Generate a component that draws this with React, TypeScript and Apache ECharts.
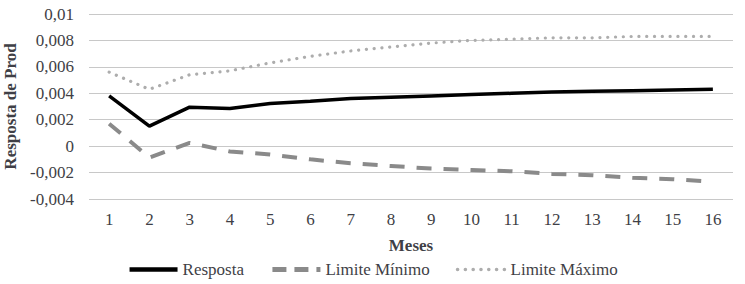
import React, { useEffect, useRef } from "react";
import * as echarts from "echarts";

const months = ["1","2","3","4","5","6","7","8","9","10","11","12","13","14","15","16"];
const resposta = [0.0038,0.00152,0.00295,0.00285,0.00323,0.0034,0.0036,0.0037,0.0038,0.0039,0.004,0.0041,0.00415,0.0042,0.00425,0.0043];
const limiteMinimo = [0.0017,-0.00086,0.00025,-0.0004,-0.00063,-0.001,-0.0013,-0.0015,-0.0017,-0.0018,-0.0019,-0.0021,-0.0022,-0.0024,-0.0025,-0.0027];
const limiteMaximo = [0.0056,0.0043,0.0054,0.0057,0.0063,0.0068,0.0072,0.0075,0.0078,0.008,0.0081,0.0082,0.0082,0.0083,0.0083,0.0083];

const FONT = "Liberation Serif";
const TXT = "#3f3f46";

export default function App() {
  const ref = useRef<HTMLDivElement>(null);
  useEffect(() => {
    if (!ref.current) return;
    const chart = echarts.init(ref.current, undefined, { renderer: "svg" });
    chart.setOption({
      animation: false,
      textStyle: { fontFamily: FONT },
      grid: { left: 89, right: 12, top: 14, bottom: 85, containLabel: false, outerBoundsMode: "none" },
      legend: {
        top: 256,
        left: "center",
        itemWidth: 48,
        itemHeight: 10,
        itemGap: 26,
        itemStyle: { opacity: 0 },
        textStyle: { fontFamily: FONT, fontSize: 17, color: TXT },
        data: [
          { name: "Resposta", lineStyle: { width: 4.5, color: "#000000" } },
          { name: "Limite Mínimo", lineStyle: { width: 5, color: "#8a8a8a", type: [14, 8] } },
          { name: "Limite Máximo", lineStyle: { width: 3.5, color: "#adadad", type: [0.1, 7.7], cap: "round" } },
        ],
      },
      xAxis: {
        type: "category",
        data: months,
        boundaryGap: true,
        name: "Meses",
        nameLocation: "middle",
        nameGap: 38,
        nameTextStyle: { fontFamily: FONT, fontSize: 17, fontWeight: "bold", color: TXT },
        axisLine: { show: false },
        axisTick: { show: false },
        axisLabel: { fontFamily: FONT, fontSize: 17, color: TXT, margin: 12 },
      },
      yAxis: {
        type: "value",
        min: -0.004,
        max: 0.01,
        interval: 0.002,
        name: "Resposta de Prod",
        nameLocation: "middle",
        nameGap: 62,
        nameTextStyle: { fontFamily: FONT, fontSize: 17, fontWeight: "bold", color: TXT },
        axisLine: { show: false },
        axisTick: { show: false },
        splitLine: { lineStyle: { color: "#c8c8c8", width: 1 } },
        axisLabel: {
          fontFamily: FONT,
          fontSize: 17,
          color: TXT,
          margin: 15,
          formatter: (v: number) => {
            const r = Math.round(v * 1000) / 1000;
            return String(r).replace(".", ",");
          },
        },
      },
      series: [
        {
          name: "Resposta",
          type: "line",
          data: resposta,
          symbol: "none",
          lineStyle: { color: "#000000", width: 3.5 },
          itemStyle: { color: "#000000" },
        },
        {
          name: "Limite Mínimo",
          type: "line",
          data: limiteMinimo,
          symbol: "none",
          lineStyle: { color: "#8a8a8a", width: 4, type: [15, 12] },
          itemStyle: { color: "#8a8a8a" },
        },
        {
          name: "Limite Máximo",
          type: "line",
          data: limiteMaximo,
          symbol: "none",
          lineStyle: { color: "#adadad", width: 3.2, type: [0.1, 7.7], cap: "round" },
          itemStyle: { color: "#adadad" },
        },
      ],
    });
    return () => chart.dispose();
  }, []);
  return (
    <div
      ref={ref}
      style={{ position: "absolute", left: 0, top: 0, width: 745, height: 284 }}
    />
  );
}
